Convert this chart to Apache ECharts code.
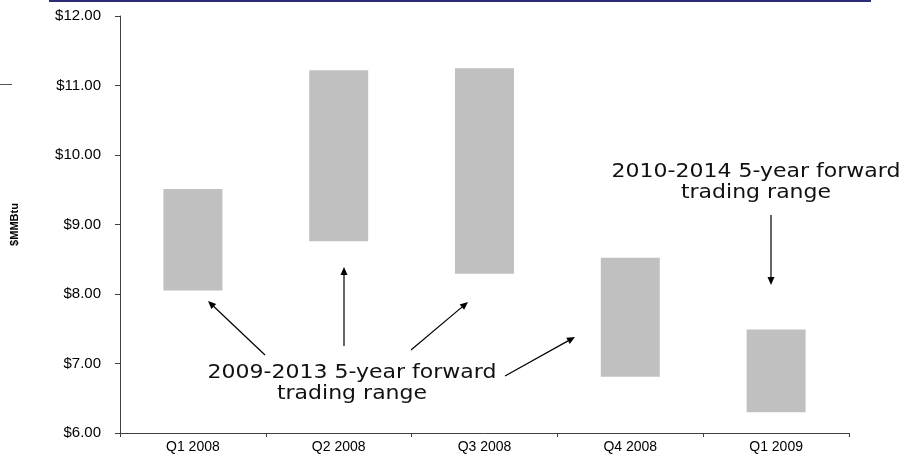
<!DOCTYPE html>
<html>
<head>
<meta charset="utf-8">
<script src="https://cdn.jsdelivr.net/npm/echarts@6/dist/echarts.min.js"></script>
<style>
  html, body { margin: 0; padding: 0; background: #fff; }
  #chart { width: 902px; height: 454px; }
</style>
</head>
<body>
<div id="chart"></div>
<script>
// Quarterly 5-year forward trading ranges ($/MMBtu)
const quarters = ['Q1 2008', 'Q2 2008', 'Q3 2008', 'Q4 2008', 'Q1 2009'];
const rangeLow = [8.05, 8.76, 8.29, 6.81, 6.30];
const rangeHigh = [9.51, 11.22, 11.25, 8.52, 7.49];
const yMin = 6, yMax = 12, yStep = 1;

// invisible base + visible span = floating range bars
const baseValues = rangeLow.slice();
const spanValues = rangeHigh.map((h, i) => +(h - rangeLow[i]).toFixed(2));

const chart = echarts.init(document.getElementById('chart'), null, { renderer: 'canvas' });

const axisColor = '#404040';
const labelFont = "'Liberation Sans', Arial, sans-serif";
const noteFont = "'DejaVu Sans', Verdana, sans-serif";

// callout arrows: [tailX, tailY, tipX, tipY]
const arrows = [
  [265, 355, 208, 301],
  [344, 346, 344, 267],
  [411, 350, 468, 302],
  [505, 376, 575, 337],
  [771, 215, 771, 285]
];

function arrowElements(a) {
  const [x1, y1, x2, y2] = a;
  const dx = x2 - x1, dy = y2 - y1;
  const len = Math.hypot(dx, dy);
  const ux = dx / len, uy = dy / len;
  const head = 8, half = 3.5;
  const bx = x2 - ux * head, by = y2 - uy * head;
  return [
    {
      type: 'line',
      shape: { x1: x1, y1: y1, x2: bx, y2: by },
      style: { stroke: '#000', lineWidth: 1.2 }
    },
    {
      type: 'polygon',
      shape: { points: [[x2, y2], [bx - uy * half, by + ux * half], [bx + uy * half, by - ux * half]] },
      style: { fill: '#000' }
    }
  ];
}

function note(text, cx, cy) {
  return {
    type: 'text',
    x: cx, y: cy,
    scaleX: 1.1,
    style: {
      text: text,
      x: 0, y: 0,
      font: '20px ' + noteFont,
      fill: '#111',
      textAlign: 'center', align: 'center',
      textVerticalAlign: 'middle', verticalAlign: 'middle',
      lineHeight: 21
    }
  };
}

const graphics = [
  // header rule
  { type: 'rect', shape: { x: 49, y: 0, width: 822, height: 2 }, style: { fill: '#2b2b7a' } },
  // small marker on the left margin
  { type: 'line', shape: { x1: 0, y1: 84.5, x2: 12, y2: 84.5 }, style: { stroke: '#555', lineWidth: 1 } },
  note('2009-2013 5-year forward\ntrading range', 352, 383),
  note('2010-2014 5-year forward\ntrading range', 756, 182)
];
arrows.forEach(a => arrowElements(a).forEach(e => graphics.push(e)));

chart.setOption({
  animation: false,
  backgroundColor: '#fff',
  grid: { left: 120, right: 53, top: 16, bottom: 21, containLabel: false },
  xAxis: {
    type: 'category',
    data: quarters,
    boundaryGap: true,
    axisLine: { show: true, lineStyle: { color: axisColor, width: 1 } },
    axisTick: { show: true, length: 4, alignWithLabel: false, lineStyle: { color: axisColor } },
    axisLabel: { color: '#000', fontSize: 14, fontFamily: labelFont, margin: 7 },
    splitLine: { show: false }
  },
  yAxis: {
    type: 'value',
    min: yMin, max: yMax, interval: yStep,
    name: '$MMBtu',
    nameLocation: 'middle',
    nameRotate: 90,
    nameGap: 100,
    nameTextStyle: { color: '#000', fontSize: 11, fontWeight: 'bold', fontFamily: labelFont },
    axisLine: { show: true, lineStyle: { color: axisColor, width: 1 } },
    axisTick: { show: true, length: 5, lineStyle: { color: axisColor } },
    axisLabel: {
      color: '#000', fontSize: 15, fontFamily: labelFont, margin: 19,
      formatter: v => '$' + v.toFixed(2)
    },
    splitLine: { show: false }
  },
  series: [
    {
      name: 'base',
      type: 'bar',
      stack: 'range',
      data: baseValues,
      barWidth: 59,
      itemStyle: { color: 'rgba(0,0,0,0)' },
      silent: true
    },
    {
      name: 'range',
      type: 'bar',
      stack: 'range',
      data: spanValues,
      barWidth: 59,
      itemStyle: { color: '#c0c0c0' }
    }
  ],
  graphic: graphics
});
</script>
</body>
</html>
